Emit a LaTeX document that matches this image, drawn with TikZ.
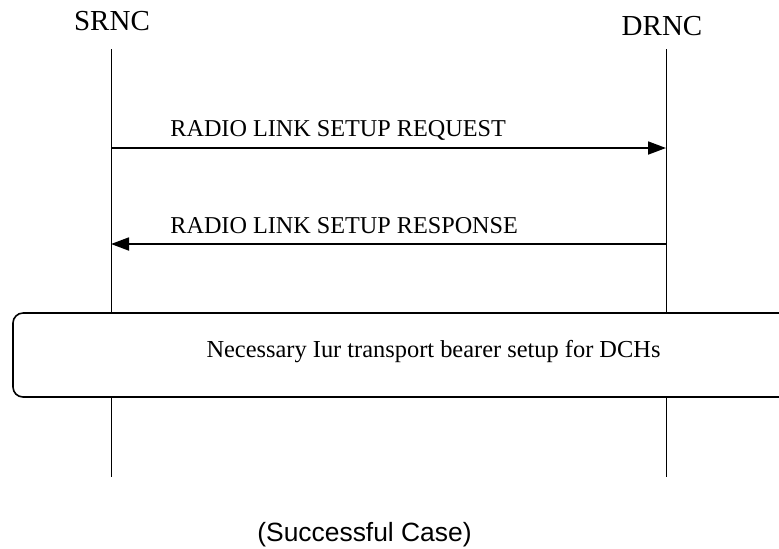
\documentclass[tikz,border=0pt]{standalone}
\usepackage{fontspec}
\setmainfont{Liberation Serif}
\newfontfamily\captionfont{Liberation Sans}
\usetikzlibrary{arrows.meta,positioning}

\begin{document}
\begin{tikzpicture}[
    x=0.5pt, y=-0.5pt,
    every node/.style={inner sep=0pt},
    entity/.style={font=\fontsize{14.5}{17}\selectfont, anchor=base},
    msglabel/.style={font=\fontsize{12.1}{14}\selectfont, anchor=base west},
    life/.style={line width=0.5pt},
    msg/.style={line width=0.9pt, -{Triangle[length=9pt,width=6.5pt]}}
]
\clip (0,0) rectangle (779,548);
% entities and lifelines
\node (srnc) [entity] at (112,30) {SRNC};
\node (drnc) [entity] at (662,35) {DRNC};
\coordinate (s top) at (111,49);
\coordinate (s end) at (111,477);
\coordinate (d top) at (666,49);
\coordinate (d end) at (666,477);
\draw[life] (s top) -- (s end);
\draw[life] (d top) -- (d end);
% messages
\coordinate (s req) at (111,148);
\coordinate (d req) at (666,148);
\coordinate (s rsp) at (111,244);
\coordinate (d rsp) at (666,244);
\draw[msg] (s req) -- (d req);
\node (req) [msglabel] at (170,136) {RADIO LINK SETUP REQUEST};
\draw[msg] (d rsp) -- (s rsp);
\node (rsp) [msglabel] at (170,233) {RADIO LINK SETUP RESPONSE};
% transport bearer setup
\node (bearerbox) [draw, line width=0.8pt, fill=white, rounded corners=5pt,
    minimum width=393.5pt, minimum height=42pt] at (406.5,355) {};
\node (bearer) [font=\fontsize{12.2}{14}\selectfont, anchor=base] at (433.5,357)
    {Necessary Iur transport bearer setup for DCHs};
% caption
\node (case) [font=\captionfont\fontsize{13.2}{16}\selectfont, anchor=base west] at (257,541)
    {(Successful Case)};
\end{tikzpicture}
\end{document}
